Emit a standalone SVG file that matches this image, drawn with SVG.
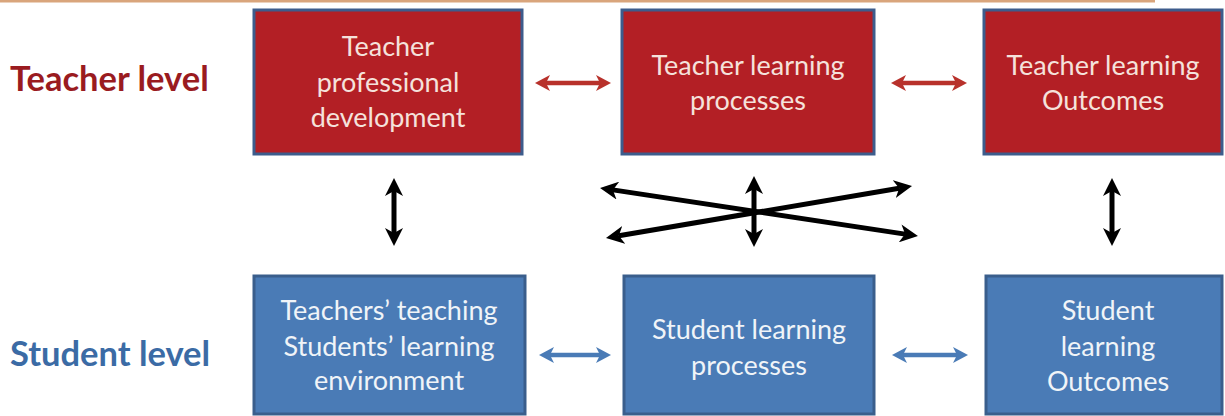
<svg xmlns="http://www.w3.org/2000/svg" width="1225" height="416" viewBox="0 0 1225 416">
<style>
.lvl{font-family:Lato,"Open Sans","Liberation Sans",sans-serif;font-weight:bold;font-size:34.5px}
.t{font-family:Lato,"Open Sans","Liberation Sans",sans-serif;font-size:27px;text-anchor:middle}
.red rect{fill:#b31f25;stroke:#3d5c8c;stroke-width:3}
.red text{fill:#f5e2dc}
.blue rect{fill:#4a7bb6;stroke:#3a5e8c;stroke-width:3}
.blue text{fill:#f0f4f8}
.blk{stroke:#000;stroke-width:5;fill:none}
.ra{stroke:#b8312b;stroke-width:4.5;fill:none}
.ba{stroke:#4a7bb6;stroke-width:4.5;fill:none}
</style>
<defs>
<marker id="hb" markerUnits="userSpaceOnUse" viewBox="0 0 18 18" markerWidth="18" markerHeight="18" refX="5" refY="9" orient="auto-start-reverse"><path d="M0,0 L18,9 L0,18 L5,9 z" fill="#000"/></marker>
<marker id="hr" markerUnits="userSpaceOnUse" viewBox="0 0 15 16" markerWidth="15" markerHeight="16" refX="4" refY="8" orient="auto-start-reverse"><path d="M0,0 L15,8 L0,16 L4,8 z" fill="#b8312b"/></marker>
<marker id="hbl" markerUnits="userSpaceOnUse" viewBox="0 0 15 16" markerWidth="15" markerHeight="16" refX="4" refY="8" orient="auto-start-reverse"><path d="M0,0 L15,8 L0,16 L4,8 z" fill="#4a7bb6"/></marker>
</defs>
<rect x="0" y="0" width="1225" height="416" fill="#fff"/>
<rect x="0" y="0" width="1155" height="2.5" fill="#d9a57c"/>
<text class="lvl" x="10" y="91" fill="#9a1b1f">Teacher level</text>
<text class="lvl" x="10" y="366" fill="#3b6ba5">Student level</text>
<g id="n1" class="red"><rect x="254" y="10" width="268" height="144"/><text class="t" x="388" y="56">Teacher</text><text class="t" x="388" y="92">professional</text><text class="t" x="388" y="127">development</text></g>
<g id="n2" class="red"><rect x="622" y="10" width="252" height="144"/><text class="t" x="748" y="75">Teacher learning</text><text class="t" x="748" y="110">processes</text></g>
<g id="n3" class="red"><rect x="984" y="10" width="238" height="144"/><text class="t" x="1103" y="75">Teacher learning</text><text class="t" x="1103" y="110">Outcomes</text></g>
<g id="n4" class="blue"><rect x="254" y="276" width="271" height="138"/><text class="t" x="389" y="320">Teachers’ teaching</text><text class="t" x="389" y="356">Students’ learning</text><text class="t" x="389" y="390">environment</text></g>
<g id="n5" class="blue"><rect x="624" y="276" width="250" height="138"/><text class="t" x="749" y="339">Student learning</text><text class="t" x="749" y="375">processes</text></g>
<g id="n6" class="blue"><rect x="986" y="276" width="236" height="138"/><text class="t" x="1108" y="320">Student</text><text class="t" x="1108" y="356">learning</text><text class="t" x="1108" y="391">Outcomes</text></g>
<g id="connectors">
<line class="ra" x1="546" y1="83" x2="600" y2="83" marker-start="url(#hr)" marker-end="url(#hr)"/>
<line class="ra" x1="902" y1="83" x2="956" y2="83" marker-start="url(#hr)" marker-end="url(#hr)"/>
<line class="ba" x1="550" y1="355" x2="600" y2="355" marker-start="url(#hbl)" marker-end="url(#hbl)"/>
<line class="ba" x1="903" y1="355" x2="957" y2="355" marker-start="url(#hbl)" marker-end="url(#hbl)"/>
<line class="blk" x1="394" y1="191" x2="394" y2="233" marker-start="url(#hb)" marker-end="url(#hb)"/>
<line class="blk" x1="1112" y1="191" x2="1112" y2="233" marker-start="url(#hb)" marker-end="url(#hb)"/>
<line class="blk" x1="754" y1="189" x2="754" y2="234" marker-start="url(#hb)" marker-end="url(#hb)"/>
<line class="blk" x1="612.9" y1="189.9" x2="905.1" y2="234.1" marker-start="url(#hb)" marker-end="url(#hb)"/>
<line class="blk" x1="618.8" y1="235.8" x2="899.2" y2="188.2" marker-start="url(#hb)" marker-end="url(#hb)"/>
</g>
</svg>
